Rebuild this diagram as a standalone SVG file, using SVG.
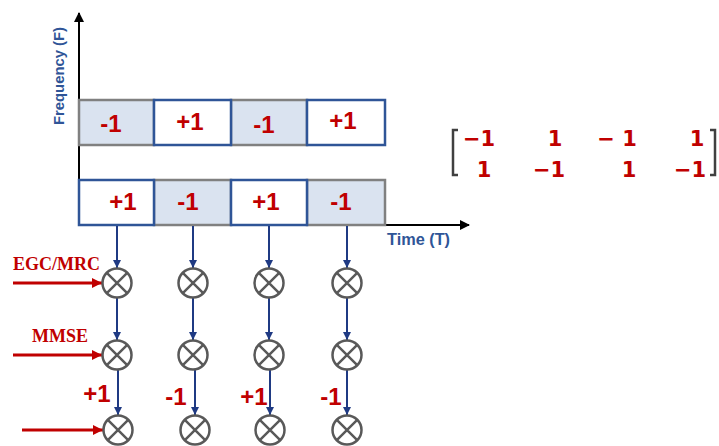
<svg xmlns="http://www.w3.org/2000/svg" width="719" height="446" viewBox="0 0 719 446">
  <defs>
    <marker id="ahBlack" markerWidth="10" markerHeight="10" refX="9" refY="5" orient="auto" markerUnits="userSpaceOnUse">
      <path d="M0,0 L10,5 L0,10 z" fill="#000"/>
    </marker>
    <marker id="ahBlue" markerWidth="8" markerHeight="8" refX="8" refY="4" orient="auto" markerUnits="userSpaceOnUse">
      <path d="M0,0 L8,4 L0,8 z" fill="#1f3a83"/>
    </marker>
    <marker id="ahRed" markerWidth="10" markerHeight="10" refX="10" refY="5" orient="auto" markerUnits="userSpaceOnUse">
      <path d="M0,0 L10,5 L0,10 z" fill="#c00000"/>
    </marker>
    <g id="mult">
      <circle cx="0" cy="0" r="14.5" fill="#fff" stroke="#595959" stroke-width="2.5"/>
      <path d="M-10.2,-10.2 L10.2,10.2 M-10.2,10.2 L10.2,-10.2" stroke="#595959" stroke-width="2.5"/>
    </g>
  </defs>
  <style>
    .shaded { fill: #dae3f0; stroke: #808080; stroke-width: 2.5; }
    .plain { fill: #ffffff; stroke: #2f5597; stroke-width: 2.5; }
    .val { font-family: "Liberation Sans", Arial, sans-serif; font-weight: bold; font-size: 24px; fill: #c00000; text-anchor: middle; }
    .mtx { font-family: "DejaVu Sans", "Liberation Sans", sans-serif; font-weight: bold; font-size: 21px; fill: #c00000; text-anchor: middle; }
    .axisLabel { font-family: "Liberation Sans", Arial, sans-serif; font-weight: bold; fill: #2f5597; }
    .method { font-family: "Liberation Serif", "Times New Roman", serif; font-weight: bold; font-size: 18px; fill: #c00000; }
    .flow { stroke: #1f3a83; stroke-width: 2; fill: none; marker-end: url(#ahBlue); }
    .feed { stroke: #c00000; stroke-width: 3; fill: none; marker-end: url(#ahRed); }
  </style>

  <!-- axes -->
  <g id="axes">
    <line x1="79" y1="225" x2="79" y2="13" stroke="#000" stroke-width="2" marker-end="url(#ahBlack)"/>
    <line x1="79" y1="225" x2="469" y2="225" stroke="#000" stroke-width="2" marker-end="url(#ahBlack)"/>
    <text class="axisLabel" font-size="15" transform="translate(64,76) rotate(-90)" text-anchor="middle" textLength="98" lengthAdjust="spacingAndGlyphs">Frequency (F)</text>
    <text class="axisLabel" font-size="16" x="387" y="245" textLength="63" lengthAdjust="spacingAndGlyphs">Time (T)</text>
  </g>

  <!-- upper subcarrier row -->
  <g id="row-top">
    <rect class="shaded" x="79" y="100" width="75" height="45"/>
    <rect class="shaded" x="231" y="100" width="76" height="45"/>
    <rect class="plain" x="154" y="100" width="77" height="45"/>
    <rect class="plain" x="307" y="100" width="78" height="45"/>
    <text class="val" x="111" y="132">-1</text>
    <text class="val" x="190" y="130">+1</text>
    <text class="val" x="264" y="133">-1</text>
    <text class="val" x="343" y="129">+1</text>
  </g>

  <!-- lower subcarrier row -->
  <g id="row-bottom">
    <rect class="shaded" x="154" y="180" width="77" height="45"/>
    <rect class="shaded" x="307" y="180" width="78" height="45"/>
    <rect class="plain" x="79" y="180" width="75" height="45"/>
    <rect class="plain" x="231" y="180" width="76" height="45"/>
    <text class="val" x="123" y="210">+1</text>
    <text class="val" x="188" y="210">-1</text>
    <text class="val" x="266" y="210">+1</text>
    <text class="val" x="341" y="210">-1</text>
  </g>

  <!-- spreading matrix -->
  <g id="matrix">
    <path d="M458,130 L453,130 L453,175 L458,175" fill="none" stroke="#404040" stroke-width="2.5"/>
    <path d="M710,130 L715,130 L715,175 L710,175" fill="none" stroke="#404040" stroke-width="2.5"/>
    <text class="mtx" x="479" y="146">−1</text>
    <text class="mtx" x="555" y="146">1</text>
    <text class="mtx" x="617" y="146">− 1</text>
    <text class="mtx" x="697" y="146">1</text>
    <text class="mtx" x="484" y="177">1</text>
    <text class="mtx" x="549" y="177">−1</text>
    <text class="mtx" x="629" y="177">1</text>
    <text class="mtx" x="690" y="177">−1</text>
  </g>

  <!-- connectors -->
  <g id="connectors">
    <line class="flow" x1="117" y1="226" x2="117" y2="268"/>
    <line class="flow" x1="193" y1="226" x2="193" y2="268"/>
    <line class="flow" x1="269" y1="226" x2="269" y2="268"/>
    <line class="flow" x1="347" y1="226" x2="347" y2="268"/>
    <line class="flow" x1="117" y1="298" x2="117" y2="340"/>
    <line class="flow" x1="193" y1="298" x2="193" y2="340"/>
    <line class="flow" x1="269" y1="298" x2="269" y2="340"/>
    <line class="flow" x1="347" y1="298" x2="347" y2="340"/>
    <line class="flow" x1="118" y1="370" x2="118" y2="415"/>
    <line class="flow" x1="195" y1="370" x2="195" y2="415"/>
    <line class="flow" x1="270" y1="370" x2="270" y2="415"/>
    <line class="flow" x1="347" y1="370" x2="347" y2="415"/>
    <line class="feed" x1="13" y1="283" x2="102" y2="283"/>
    <line class="feed" x1="13" y1="355" x2="102" y2="355"/>
    <line class="feed" x1="22" y1="430" x2="103" y2="430"/>
  </g>

  <!-- combiner stage -->
  <g id="egc-mrc">
    <text class="method" x="13" y="270">EGC/MRC</text>
    <use href="#mult" x="117" y="283"/>
    <use href="#mult" x="193" y="283"/>
    <use href="#mult" x="269" y="283"/>
    <use href="#mult" x="347" y="283"/>
  </g>

  <!-- equalizer stage -->
  <g id="mmse">
    <text class="method" x="32" y="342">MMSE</text>
    <use href="#mult" x="117" y="355"/>
    <use href="#mult" x="193" y="355"/>
    <use href="#mult" x="269" y="355"/>
    <use href="#mult" x="347" y="355"/>
  </g>

  <!-- despreading stage -->
  <g id="despread">
    <use href="#mult" x="118" y="430"/>
    <use href="#mult" x="195" y="430"/>
    <use href="#mult" x="270" y="430"/>
    <use href="#mult" x="347" y="430"/>
    <text class="val" x="97" y="402">+1</text>
    <text class="val" x="176" y="405">-1</text>
    <text class="val" x="254" y="405">+1</text>
    <text class="val" x="331" y="405">-1</text>
  </g>
</svg>
